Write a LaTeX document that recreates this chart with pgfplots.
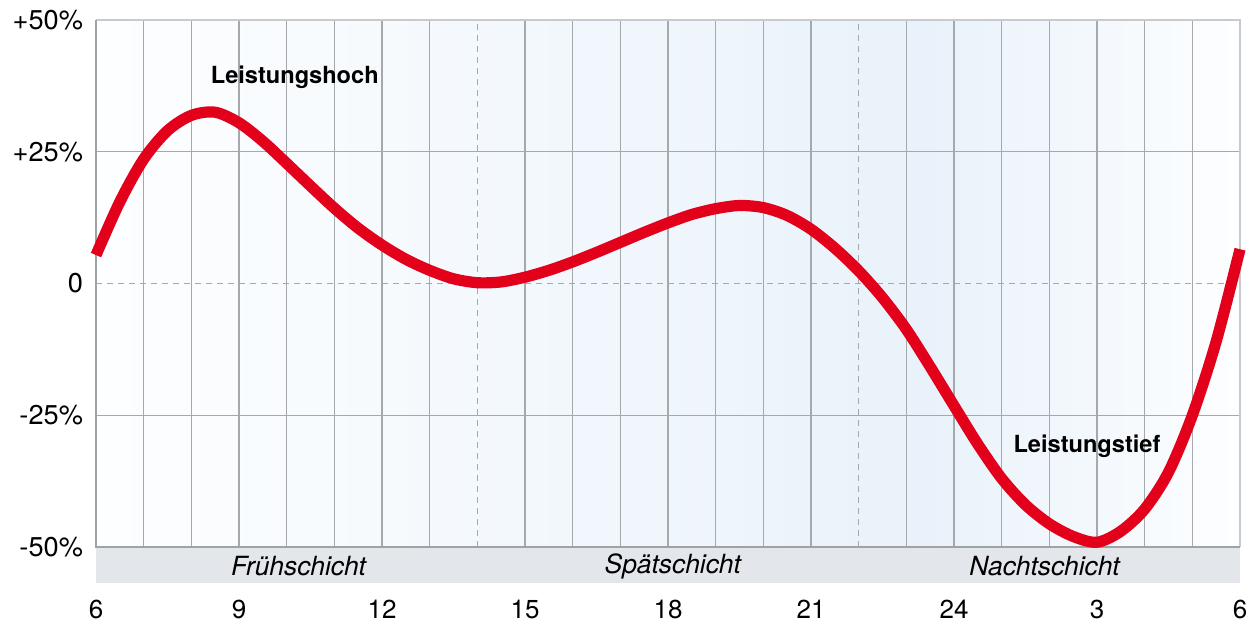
\documentclass[border=0pt]{standalone}
\usepackage{fontspec}
\setmainfont{TeX Gyre Heros}
\usepackage{pgfplots}
\pgfplotsset{compat=1.18}
\definecolor{curvered}{RGB}{226,0,26}
\definecolor{gridgray}{RGB}{165,169,173}
\definecolor{bandgray}{RGB}{227,230,234}
\definecolor{bgpeak}{RGB}{233,242,250}
\definecolor{bgstart}{RGB}{253,254,255}
\definecolor{axisgray}{RGB}{160,163,166}
\definecolor{framegray}{RGB}{200,202,205}
\pgfdeclarehorizontalshading{shiftbg}{100bp}{color(0bp)=(bgstart); color(25bp)=(bgstart); color(61.46bp)=(bgpeak); color(75bp)=(bgstart); color(100bp)=(bgstart)}
\begin{document}
\begin{tikzpicture}
\begin{axis}[
  scale only axis, width=572pt, height=263.5pt,
  xmin=6, xmax=30, ymin=-50, ymax=50,
  clip=false,
  axis background/.style={shading=shiftbg},
  axis line style={draw=none},
  xtick={6,9,...,30}, xticklabels={6,9,12,15,18,21,24,3,6},
  minor xtick={7,8,10,11,13,16,17,19,20,23,25,26,28,29},
  ytick={-50,-25,25,50}, yticklabels={-50\%,-25\%,+25\%,+50\%},
  extra y ticks={0}, extra y tick labels={0},
  extra y tick style={major grid style={gridgray, line width=0.7pt, dash pattern=on 3pt off 2.5pt}},
  xmajorgrids, xminorgrids, ymajorgrids,
  major grid style={gridgray, line width=0.65pt},
  minor grid style={gridgray, line width=0.65pt},
  major tick length=0pt, minor tick length=0pt,
  tick style={draw=none},
  yticklabel style={font=\fontsize{13.6}{16}\selectfont, xshift=-3pt},
  xticklabel style={font=\fontsize{13}{15}\selectfont, yshift=-23pt},
]
\draw[gridgray, line width=0.7pt, dash pattern=on 3pt off 2.5pt] (axis cs:14,-50) -- (axis cs:14,50);
\draw[gridgray, line width=0.7pt, dash pattern=on 3pt off 2.5pt] (axis cs:22,-50) -- (axis cs:22,50);
\fill[bandgray] (axis cs:6,-50) rectangle (axis cs:30,-56.83);
\draw[framegray, line width=1pt] (axis cs:6,50) -- (axis cs:30,50) -- (axis cs:30,-50);
\draw[axisgray, line width=1.2pt] (axis cs:6,50) -- (axis cs:6,-50) -- (axis cs:30,-50);
\node[font=\fontsize{13.2}{15}\selectfont\itshape] at (axis cs:10.25,-53.6) {Frühschicht};
\node[font=\fontsize{13.2}{15}\selectfont\itshape] at (axis cs:18.1,-53.6) {Spätschicht};
\node[font=\fontsize{13.2}{15}\selectfont\itshape] at (axis cs:25.9,-53.6) {Nachtschicht};
\addplot[curvered, line width=5.6pt, smooth] coordinates {
(6,5.4) (6.5,15.5) (7,23.6) (7.5,29.0) (8,31.9) (8.5,32.5) (9,30.5) (9.5,27.0)
(10,22.8) (10.5,18.5) (11,14.3) (11.5,10.5) (12,7.3) (12.5,4.6) (13,2.5) (13.5,0.9)
(14,0.15) (14.5,0.3) (15,1.2) (15.5,2.5) (16,4.1) (16.5,5.9) (17,7.8) (17.5,9.7)
(18,11.5) (18.5,13.1) (19,14.2) (19.5,14.8) (20,14.4) (20.5,12.9) (21,10.3) (21.5,6.7)
(22,2.4) (22.5,-2.7) (23,-8.7) (23.5,-15.8) (24,-23.2) (24.5,-30.5) (25,-37.0) (25.5,-42.0)
(26,-45.6) (26.5,-48.0) (27,-49.1) (27.5,-47.0) (28,-42.8) (28.5,-35.8) (29,-25.0) (29.5,-11.0)
(30,6.5)
};
\node[font=\fontsize{11.8}{14}\selectfont\bfseries] at (axis cs:10.17,39.1) {Leistungshoch};
\node[font=\fontsize{11.8}{14}\selectfont\bfseries] at (axis cs:26.79,-30.9) {Leistungstief};
\end{axis}
\pgfresetboundingbox
\path ([shift={(-48pt,-38pt)}]current axis.south west) rectangle ([shift={(5pt,10pt)}]current axis.north east);
\end{tikzpicture}
\end{document}
